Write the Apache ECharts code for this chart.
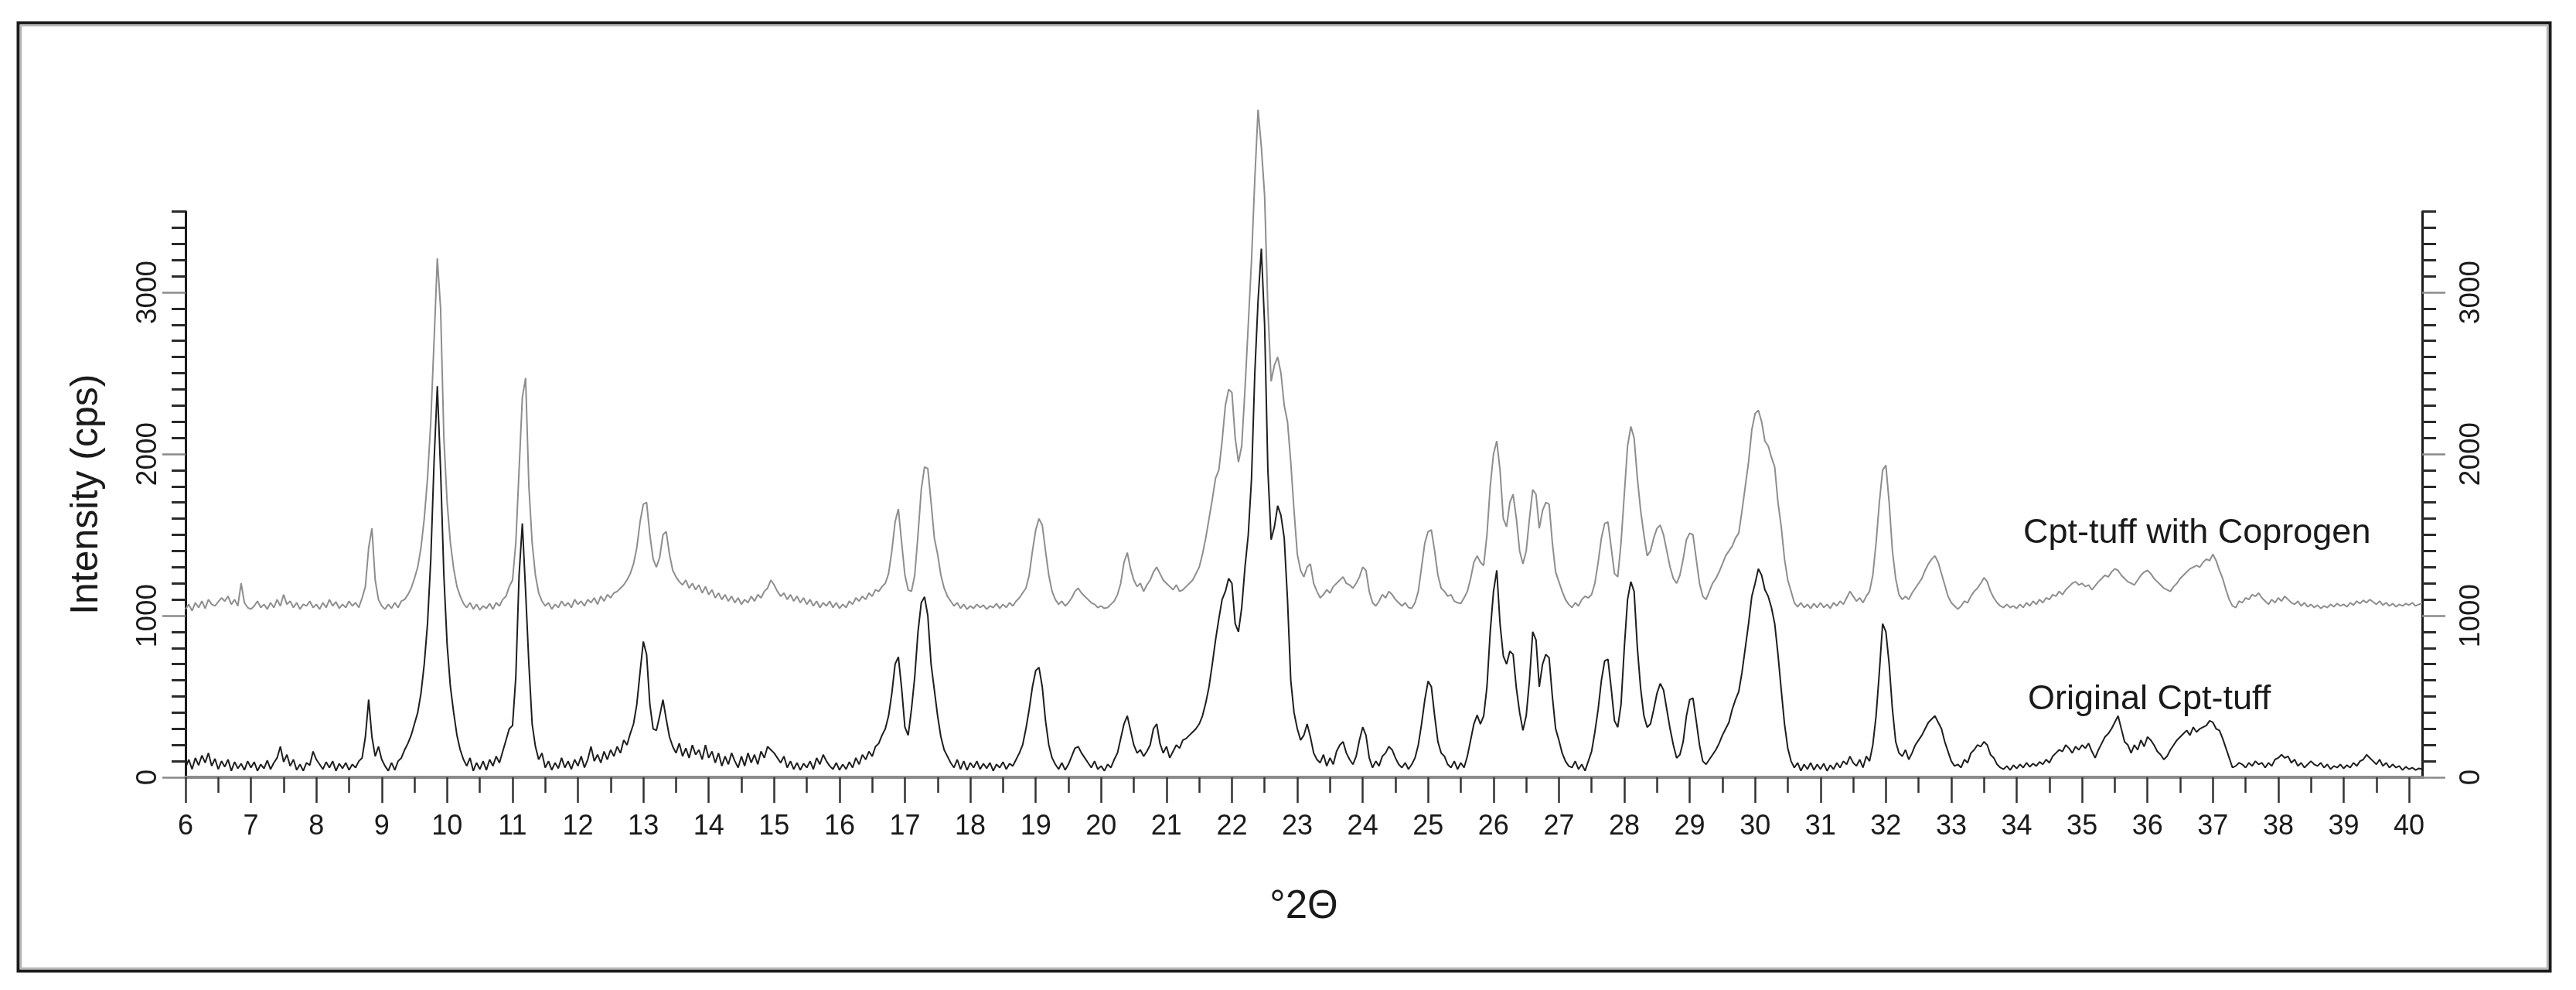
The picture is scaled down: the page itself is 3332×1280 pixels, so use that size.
<!DOCTYPE html>
<html>
<head>
<meta charset="utf-8">
<script src="https://cdn.jsdelivr.net/npm/echarts@6/dist/echarts.min.js"></script>
<style>
html,body{margin:0;padding:0;background:#ffffff;}
#chart{width:3332px;height:1280px;}
</style>
</head>
<body>
<div id="chart"></div>
<script>
// 2θ sampling grid (degrees)
const thetaStart = 6.0;
const thetaStep = 0.05;

// Intensity (cps), one row per degree (x.00 ... x.95)
const originalCptTuff = [
  60,110,50,120,75,135,90,150,70,115,50,100,65,110,40,95,55,85,45,100,
  60,95,40,80,55,105,50,90,120,190,95,140,70,110,45,80,40,90,75,160,
  110,80,50,95,60,100,40,85,55,90,45,80,60,100,120,250,480,250,130,190,
  110,70,40,90,45,100,120,170,210,260,330,400,520,700,950,1350,1950,2420,1900,1250,
  820,560,400,260,170,110,70,120,40,90,50,100,45,110,70,130,90,160,230,300,
  320,620,1250,1570,1150,700,330,190,110,150,60,100,45,90,55,120,60,100,50,110,
  70,130,60,110,190,100,140,90,160,110,170,130,190,150,230,200,270,330,450,650,
  840,760,450,300,290,380,480,360,250,190,150,210,130,180,120,200,140,170,110,200,
  120,160,90,150,70,130,80,150,100,60,130,70,150,90,140,80,160,120,190,170,
  150,120,90,130,60,100,50,90,45,85,60,100,50,120,80,140,100,70,50,90,
  45,80,50,95,60,120,80,140,110,160,130,190,210,260,300,380,520,700,745,550,
  310,260,420,620,900,1080,1116,1000,700,540,380,250,170,130,90,60,110,50,100,45,
  90,60,100,50,85,55,90,40,80,60,95,50,85,70,110,150,200,300,420,560,
  660,680,560,350,200,120,80,50,90,45,80,130,180,190,150,120,90,60,100,50,
  70,40,80,60,110,150,240,330,380,290,200,150,170,130,160,200,300,330,210,150,
  190,120,160,200,180,230,240,260,280,300,330,380,460,560,700,850,980,1100,1150,1230,
  1200,950,900,1050,1300,1500,1850,2500,2950,3270,2800,1900,1470,1550,1680,1620,1480,1100,600,400,
  300,230,260,330,250,150,110,90,140,70,120,80,160,200,220,150,110,80,130,230,
  310,260,120,60,100,70,130,150,190,170,120,80,60,90,50,80,120,200,330,480,
  595,560,380,220,150,130,80,60,100,50,90,60,130,230,330,385,330,380,560,900,
  1150,1280,950,750,700,780,760,550,400,290,380,600,900,850,560,700,760,740,500,300,
  230,150,100,70,60,100,50,80,40,100,160,280,420,600,720,730,550,350,310,450,
  800,1100,1210,1150,800,550,380,310,330,420,520,580,540,420,300,200,120,140,220,380,
  480,490,350,200,100,80,110,140,170,210,260,300,340,420,480,530,650,800,950,1120,
  1200,1290,1250,1160,1120,1050,950,760,540,330,180,100,60,90,40,80,50,90,45,80,
  50,85,40,75,50,90,60,100,80,130,90,70,110,60,130,100,200,380,650,950,
  900,700,420,220,150,130,170,110,150,200,230,260,300,340,360,380,340,300,220,160,
  100,70,80,60,110,90,150,170,200,190,220,200,140,120,80,60,50,70,45,75,
  55,80,60,90,65,85,70,95,80,110,90,130,150,170,160,200,180,150,190,170,
  200,180,210,160,120,170,210,250,270,300,340,380,300,220,200,150,200,170,230,190,
  250,230,200,160,140,110,130,170,200,230,250,270,290,260,310,280,300,310,320,350,
  340,300,290,240,180,120,60,70,90,80,60,90,70,100,80,90,60,90,70,110,
  120,140,120,130,90,110,70,90,60,80,100,80,70,90,60,80,50,70,60,80,
  55,75,60,90,70,100,110,140,120,100,80,110,70,90,60,80,60,70,45,65,
  50,60,45,55,50
];

const cptTuffWithCoprogen = [
  1040,1070,1030,1080,1050,1090,1045,1100,1070,1060,1085,1110,1090,1120,1070,1100,1060,1200,1080,1050,
  1040,1060,1090,1050,1070,1040,1080,1050,1100,1060,1130,1070,1090,1050,1080,1040,1070,1060,1090,1050,
  1070,1040,1080,1050,1100,1060,1085,1045,1070,1050,1090,1060,1080,1050,1110,1180,1420,1540,1220,1100,
  1060,1040,1070,1045,1080,1050,1090,1100,1130,1170,1230,1300,1420,1600,1850,2200,2700,3210,2900,2100,
  1700,1450,1290,1180,1120,1075,1050,1080,1040,1070,1035,1060,1045,1075,1040,1080,1060,1100,1120,1180,
  1220,1450,1900,2350,2470,1800,1450,1250,1140,1090,1060,1080,1040,1070,1050,1090,1060,1080,1050,1100,
  1070,1090,1060,1100,1080,1110,1070,1120,1090,1130,1110,1140,1150,1170,1190,1220,1260,1320,1420,1580,
  1690,1700,1500,1350,1300,1360,1500,1520,1380,1280,1240,1210,1190,1220,1170,1200,1160,1190,1140,1180,
  1130,1160,1110,1140,1100,1130,1090,1120,1080,1110,1070,1100,1080,1120,1090,1130,1110,1150,1170,1220,
  1190,1150,1120,1140,1100,1130,1090,1120,1080,1110,1070,1100,1060,1090,1050,1080,1060,1090,1050,1080,
  1045,1070,1050,1090,1070,1110,1090,1120,1100,1140,1120,1160,1150,1180,1200,1260,1400,1580,1660,1450,
  1250,1160,1150,1250,1500,1780,1920,1910,1700,1480,1380,1250,1170,1120,1090,1060,1080,1045,1070,1040,
  1060,1045,1070,1050,1065,1040,1060,1050,1075,1045,1070,1050,1080,1060,1090,1110,1140,1170,1250,1400,
  1530,1600,1560,1400,1250,1150,1100,1070,1090,1060,1080,1110,1150,1170,1140,1120,1100,1080,1070,1050,
  1060,1045,1050,1070,1090,1130,1200,1330,1390,1290,1220,1180,1200,1150,1190,1220,1270,1300,1260,1220,
  1200,1180,1160,1190,1150,1160,1180,1200,1220,1260,1300,1380,1480,1600,1720,1850,1900,2080,2300,2400,
  2380,2100,1950,2050,2400,2800,3200,3700,4130,3900,3600,2900,2450,2550,2600,2500,2300,2200,1950,1650,
  1380,1280,1240,1300,1320,1200,1150,1110,1130,1160,1140,1180,1200,1220,1240,1200,1190,1170,1200,1240,
  1300,1280,1150,1080,1060,1090,1130,1110,1150,1130,1100,1080,1060,1080,1050,1045,1080,1150,1300,1450,
  1520,1530,1400,1250,1170,1150,1120,1130,1090,1080,1075,1110,1150,1230,1330,1370,1330,1310,1500,1800,
  2000,2080,1900,1600,1550,1700,1750,1600,1400,1320,1400,1600,1780,1750,1540,1650,1700,1690,1450,1270,
  1210,1150,1100,1070,1050,1080,1060,1100,1120,1110,1130,1200,1330,1480,1570,1580,1420,1260,1240,1450,
  1750,2050,2170,2100,1850,1650,1500,1370,1400,1480,1540,1560,1500,1400,1300,1230,1200,1250,1350,1470,
  1510,1500,1350,1200,1120,1100,1150,1200,1230,1270,1320,1370,1400,1430,1480,1510,1650,1800,1950,2150,
  2250,2270,2200,2080,2050,1980,1920,1700,1550,1350,1220,1150,1080,1055,1080,1050,1070,1045,1075,1050,
  1080,1050,1070,1045,1080,1060,1090,1070,1110,1150,1120,1090,1110,1080,1120,1150,1250,1450,1700,1900,
  1930,1700,1400,1230,1130,1100,1120,1100,1140,1170,1200,1230,1280,1320,1350,1370,1330,1260,1190,1120,
  1080,1060,1040,1060,1090,1080,1120,1150,1170,1200,1235,1210,1150,1110,1080,1060,1050,1070,1050,1060,
  1045,1070,1050,1080,1060,1090,1070,1100,1080,1110,1100,1130,1120,1150,1130,1160,1180,1200,1210,1190,
  1200,1180,1190,1160,1185,1210,1230,1250,1240,1270,1290,1280,1250,1230,1210,1200,1190,1220,1250,1270,
  1280,1260,1230,1210,1190,1170,1160,1150,1180,1200,1230,1250,1270,1290,1300,1310,1300,1330,1350,1340,
  1380,1340,1280,1230,1160,1100,1060,1050,1090,1080,1110,1100,1130,1120,1140,1110,1090,1070,1100,1080,
  1110,1090,1120,1100,1080,1070,1090,1060,1080,1055,1070,1050,1065,1045,1060,1050,1070,1055,1075,1060,
  1070,1055,1080,1065,1090,1075,1095,1080,1100,1085,1070,1090,1065,1080,1060,1075,1055,1070,1060,1075,
  1065,1080,1060,1070,1075
];

const xTickLabels = [6,7,8,9,10,11,12,13,14,15,16,17,18,19,20,21,22,23,24,25,26,27,28,29,30,31,32,33,34,35,36,37,38,39,40];
const yTickLabels = [0,1000,2000,3000];
const seriesNames = ['Cpt-tuff with Coprogen', 'Original Cpt-tuff'];

const xHalfTicks = xTickLabels.slice(0, -1).map(v => v + 0.5);
const yMinorTicks = [];
for (let v = 100; v <= 3500; v += 100) { if (v % 1000 !== 0) yMinorTicks.push(v); }

const toPairs = vals => vals.map((v, i) => [+(thetaStart + i * thetaStep).toFixed(2), v]);
const plain = v => String(Math.round(v));

const FONT = '"Liberation Sans", Arial, sans-serif';
const DARK = '#1a1a1a';

const yBase = { type: 'value', min: 0, max: 3500, interval: 500, gridIndex: 0, splitLine: { show: false } };
const majorY = (pos, margin, extra) => Object.assign({}, yBase, {
  position: pos,
  axisLine: { show: true, onZero: false, lineStyle: { color: DARK, width: 3 } },
  axisTick: { show: true, customValues: yTickLabels, length: 30, lineStyle: { color: '#8a8a8a', width: 2.5 } },
  axisLabel: { show: true, customValues: yTickLabels, formatter: plain, rotate: 90, margin: margin, fontSize: 37, color: DARK, fontFamily: FONT }
}, extra || {});
const minorY = pos => Object.assign({}, yBase, {
  position: pos,
  axisLine: { show: false, onZero: false },
  axisTick: { show: true, customValues: yMinorTicks, length: 18, lineStyle: { color: '#2a2a2a', width: 3 } },
  axisLabel: { show: false }
});

const chart = echarts.init(document.getElementById('chart'), null, { renderer: 'canvas' });
chart.setOption({
  animation: false,
  backgroundColor: '#ffffff',
  grid: { left: 240, right: 199, top: 273.5, bottom: 275, containLabel: false },
  xAxis: [
    {
      type: 'value', min: 6, max: 40.2, interval: 1, position: 'bottom',
      name: '°2Θ', nameLocation: 'middle', nameGap: 142,
      nameTextStyle: { fontSize: 51, color: DARK, fontFamily: FONT },
      axisLine: { show: true, onZero: false, lineStyle: { color: '#8c8c8c', width: 4 } },
      axisTick: { show: true, customValues: xTickLabels, length: 33, lineStyle: { color: '#333333', width: 2.5 } },
      axisLabel: { show: true, customValues: xTickLabels, formatter: plain, margin: 46, fontSize: 36, color: DARK, fontFamily: FONT },
      splitLine: { show: false }
    },
    {
      type: 'value', min: 6, max: 40.2, position: 'bottom',
      axisLine: { show: false, onZero: false },
      axisTick: { show: true, customValues: xHalfTicks, length: 20, lineStyle: { color: '#333333', width: 2.5 } },
      axisLabel: { show: false },
      splitLine: { show: false }
    }
  ],
  yAxis: [
    majorY('left', 30, {
      name: 'Intensity (cps)', nameLocation: 'middle', nameRotate: 90, nameGap: 103,
      nameTextStyle: { fontSize: 50, color: DARK, fontFamily: FONT }
    }),
    minorY('left'),
    majorY('right', 45),
    minorY('right')
  ],
  series: [
    {
      name: seriesNames[0], type: 'line', xAxisIndex: 0, yAxisIndex: 0,
      data: toPairs(cptTuffWithCoprogen), showSymbol: false, symbol: 'none', clip: false,
      lineStyle: { color: '#8e8e8e', width: 2 }, z: 2
    },
    {
      name: seriesNames[1], type: 'line', xAxisIndex: 0, yAxisIndex: 0,
      data: toPairs(originalCptTuff), showSymbol: false, symbol: 'none', clip: false,
      lineStyle: { color: '#1e1e1e', width: 2 }, z: 3
    }
  ],
  graphic: [
    { type: 'rect', silent: true, shape: { x: 23.5, y: 29.5, width: 3275, height: 1226 },
      style: { fill: 'none', stroke: '#1c1c1c', lineWidth: 4 } },
    { type: 'rect', silent: true, shape: { x: 27, y: 33, width: 3268, height: 1219 },
      style: { fill: 'none', stroke: '#b8b8b8', lineWidth: 2.5 } },
    { type: 'text', silent: true, x: 2617, y: 690,
      style: { text: seriesNames[0], fontSize: 45, fontFamily: FONT, fill: DARK, align: 'left', verticalAlign: 'middle' } },
    { type: 'text', silent: true, x: 2623, y: 905,
      style: { text: seriesNames[1], fontSize: 45, fontFamily: FONT, fill: DARK, align: 'left', verticalAlign: 'middle' } }
  ]
});
</script>
</body>
</html>
